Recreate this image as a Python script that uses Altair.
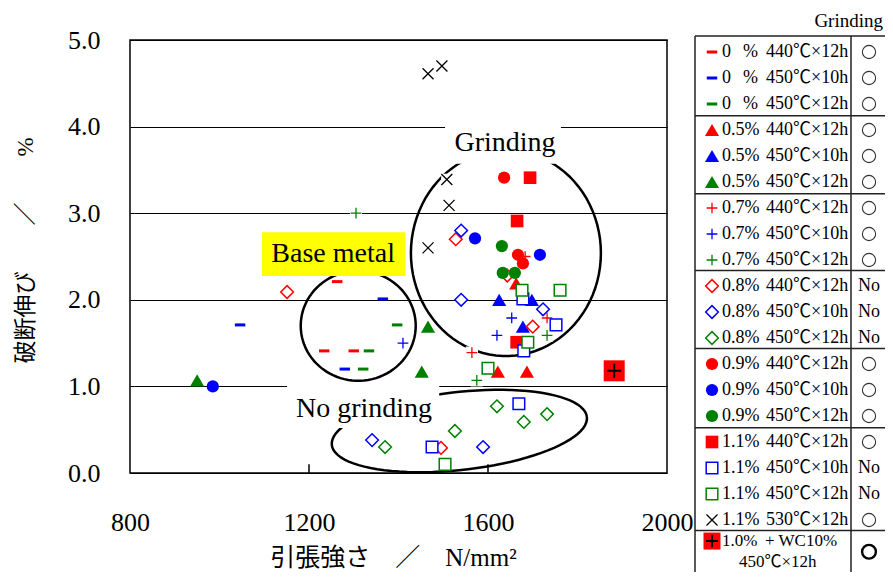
import math
import altair as alt
import pandas as pd

RED, BLUE, GREEN, BLACK = "#ff0000", "#0000ff", "#008000", "#000000"
FONT = "Liberation Serif, Noto Sans CJK JP"

# ---------------- data (tensile strength N/mm2, elongation %) ----------------
ts_0_440 = [1263, 1234, 1300]
el_0_440 = [2.21, 1.41, 1.41]
ts_0_450_10 = [1365, 1046, 1280]
el_0_450_10 = [2.01, 1.71, 1.20]
ts_0_450_12 = [1397, 1334, 1321]
el_0_450_12 = [1.71, 1.41, 1.20]
ts_05_440 = [1663, 1622, 1687]
el_05_440 = [2.19, 1.17, 1.17]
ts_05_450_10 = [1625, 1698, 1678]
el_05_450_10 = [2.00, 2.00, 1.69]
ts_05_450_12 = [950, 1466, 1452]
el_05_450_12 = [1.07, 1.69, 1.17]
ts_07_440 = [1683, 1732, 1564]
el_07_440 = [2.50, 1.79, 1.39]
ts_07_450_10 = [1410, 1653, 1620]
el_07_450_10 = [1.50, 1.79, 1.59]
ts_07_450_12 = [1305, 1732, 1575]
el_07_450_12 = [3.00, 1.59, 1.07]
ts_08_440 = [1151, 1528, 1643, 1700, 1495]
el_08_440 = [2.09, 2.70, 2.28, 1.69, 0.29]
ts_08_450_10 = [1540, 1540, 1723, 1341, 1589]
el_08_450_10 = [2.80, 2.00, 1.89, 0.38, 0.30]
ts_08_450_12 = [1370, 1620, 1732, 1680, 1526]
el_08_450_12 = [0.30, 0.77, 0.68, 0.59, 0.485]
ts_09_440 = [1636, 1667, 1678]
el_09_440 = [3.41, 2.52, 2.42]
ts_09_450_10 = [985, 1571, 1716]
el_09_450_10 = [1.00, 2.71, 2.52]
ts_09_450_12 = [1631, 1633, 1660]
el_09_450_12 = [2.62, 2.31, 2.31]
ts_11_440 = [1694, 1665, 1664]
el_11_440 = [3.41, 2.91, 1.51]
ts_11_450_10 = [1678, 1752, 1680, 1669, 1475]
el_11_450_10 = [2.01, 1.71, 1.41, 0.80, 0.30]
ts_11_450_12 = [1676, 1761, 1689, 1600, 1504]
el_11_450_12 = [2.11, 2.11, 1.51, 1.21, 0.10]
ts_11_530 = [1466, 1497, 1508, 1513, 1466]
el_11_530 = [4.61, 4.70, 3.39, 3.09, 2.60]
ts_wc = [1882]
el_wc = [1.18]

# legend table
leg_pct = ["0", "0", "0", "0.5%", "0.5%", "0.5%", "0.7%", "0.7%", "0.7%",
           "0.8%", "0.8%", "0.8%", "0.9%", "0.9%", "0.9%",
           "1.1%", "1.1%", "1.1%", "1.1%"]
leg_cond = ["440℃×12h", "450℃×10h", "450℃×12h"] * 5 + \
           ["440℃×12h", "450℃×10h", "450℃×12h", "530℃×12h"]
leg_grind = ["○"] * 9 + ["No"] * 3 + ["○"] * 3 + ["○", "No", "No", "○"]
leg_marker = ["dash"] * 3 + ["tri"] * 3 + ["plus"] * 3 + ["diamond"] * 3 + \
             ["circle"] * 3 + ["sqfill", "sqopen", "sqopen", "x"]
leg_color = [RED, BLUE, GREEN] * 5 + [RED, BLUE, GREEN, BLACK]
leg_sep = [2.45, 5.45, 8.4, 11.4, 14.45, 18.4]
wc_lines = ["1.0%", "+ WC10%", "450℃×12h"]

series = [
    (ts_0_440, el_0_440), (ts_0_450_10, el_0_450_10), (ts_0_450_12, el_0_450_12),
    (ts_05_440, el_05_440), (ts_05_450_10, el_05_450_10), (ts_05_450_12, el_05_450_12),
    (ts_07_440, el_07_440), (ts_07_450_10, el_07_450_10), (ts_07_450_12, el_07_450_12),
    (ts_08_440, el_08_440), (ts_08_450_10, el_08_450_10), (ts_08_450_12, el_08_450_12),
    (ts_09_440, el_09_440), (ts_09_450_10, el_09_450_10), (ts_09_450_12, el_09_450_12),
    (ts_11_440, el_11_440), (ts_11_450_10, el_11_450_10), (ts_11_450_12, el_11_450_12),
    (ts_11_530, el_11_530),
]

# annotation shapes (center x, center y, semi-axes in px, tilt deg)
ellipses = [("grind", 1640, 2.54, 95, 103, 0.0),
            ("base", 1310, 1.70, 57.5, 55, 0.0),
            ("nogrind", 1536, 0.485, 128.3, 39, -6.27)]
labels_txt = ["Grinding", "Base metal", "No grinding"]
labels_ts = [1638, 1254, 1323]
labels_el = [3.81, 2.53, 0.74]
box_ts = [1504, 1095, 1151]
box_ts2 = [1763, 1415, 1491]
box_el = [3.57, 2.275, 0.52]
box_el2 = [4.07, 2.78, 1.02]
box_fill = ["white", "#ffff00", "white"]

# ---------------- layout ----------------
W, H = 537, 433
KX, KY = W / 1200, H / 5

PLUS = "M -1 0 L 1 0 M 0 -1 L 0 1"
CROSS = "M -1 -1 L 1 1 M -1 1 L 1 -1"
MARKERS = {
    "dash": dict(shape="stroke", size=110, sw=3, fill="none"),
    "tri": dict(shape="triangle-up", size=200, sw=0, fill="solid"),
    "plus": dict(shape=PLUS, size=115, sw=1.3, fill="none", bg=150),
    "diamond": dict(shape="diamond", size=160, sw=1.5, fill="white"),
    "circle": dict(shape="circle", size=150, sw=0, fill="solid"),
    "sqfill": dict(shape="square", size=160, sw=0, fill="solid"),
    "sqopen": dict(shape="square", size=135, sw=1.5, fill="white"),
    "x": dict(shape=CROSS, size=121, sw=1.3, fill="none", bg=130),
}

xscale = alt.Scale(domain=[800, 2000], nice=False, zero=False)
yscale = alt.Scale(domain=[0, 5], nice=False, zero=False)
xaxis = alt.Axis(values=[800, 1200, 1600, 2000], format="d",
                 title="引張強さ　／　N/mm²", grid=False, ticks=False, tickSize=0,
                 domain=False, labelFont=FONT, labelFontSize=26, labelColor="black",
                 labelPadding=49, labelBaseline="middle", labelFlush=False,
                 titleFont=FONT, titleFontSize=25, titleFontWeight="normal",
                 titleColor="black", titleX=263, titleY=84, titleAlign="center",
                 titleBaseline="middle")
yaxis = alt.Axis(values=[0, 1, 2, 3, 4, 5], format=".1f",
                 title="破断伸び　　／　　%", grid=True, gridColor="black",
                 gridWidth=1, gridOpacity=1, ticks=False, tickSize=0, domain=False,
                 labelFont=FONT, labelFontSize=26, labelColor="black",
                 labelPadding=30, labelFlush=False, titleFont=FONT, titleFontSize=23,
                 titleFontWeight="normal", titleColor="black", titleX=-105,
                 titleY=210, titleAngle=270, titleBaseline="middle",
                 titleAlign="center")


def X(f="ts"):
    return alt.X(f, type="quantitative", scale=xscale, axis=xaxis)


def Y(f="el"):
    return alt.Y(f, type="quantitative", scale=yscale, axis=yaxis)


lxscale = alt.Scale(domain=[0, 192], range=[565, 757], nice=False, zero=False)
lyscale = alt.Scale(domain=[0, 20], range=[12, 532], nice=False, zero=False)


def LX(f="lx"):
    return alt.X(f, type="quantitative", scale=lxscale, axis=None)


def LY(f="slot"):
    return alt.Y(f, type="quantitative", scale=lyscale, axis=None)


def marker_layers(df, marker, color, xe, ye):
    m = MARKERS[marker]
    out = []
    if m.get("bg"):
        out.append(alt.Chart(df).mark_point(shape="square", filled=True, fill="white",
                                            strokeWidth=0, size=m["bg"], opacity=1)
                   .encode(x=xe, y=ye))
    if m["fill"] == "solid":
        mk = alt.Chart(df).mark_point(shape=m["shape"], filled=True, fill=color,
                                      strokeWidth=0, size=m["size"], opacity=1)
    elif m["fill"] == "white":
        mk = alt.Chart(df).mark_point(shape=m["shape"], filled=True, fill="white",
                                      stroke=color, strokeWidth=m["sw"],
                                      size=m["size"], opacity=1)
    else:
        mk = alt.Chart(df).mark_point(shape=m["shape"], filled=False, stroke=color,
                                      strokeWidth=m["sw"], size=m["size"], opacity=1)
    out.append(mk.encode(x=xe, y=ye))
    return out


# ---------------- plot layers ----------------
layers = []

# ellipse outlines
rows = []
for name, cx, cy, a, b, tilt in ellipses:
    ph = math.radians(tilt)
    for k in range(0, 91):
        t = math.radians(k * 4)
        dxp = a * math.cos(t) * math.cos(ph) - b * math.sin(t) * math.sin(ph)
        dyp = a * math.cos(t) * math.sin(ph) + b * math.sin(t) * math.cos(ph)
        rows.append({"name": name, "idx": k, "ts": cx + dxp / KX, "el": cy - dyp / KY})
ell_df = pd.DataFrame(rows)
layers.append(alt.Chart(ell_df).mark_line(color="black", strokeWidth=2.5)
              .encode(x=X(), y=Y(), detail="name:N", order="idx:Q"))

# label boxes and texts
box_df = pd.DataFrame({"ts": box_ts, "ts2": box_ts2, "el": box_el, "el2": box_el2,
                       "fill": box_fill})
layers.append(alt.Chart(box_df).mark_rect(strokeWidth=0)
              .encode(x=X(), x2="ts2", y=Y(), y2="el2",
                      fill=alt.Fill("fill:N", scale=None)))
lab_df = pd.DataFrame({"ts": labels_ts, "el": labels_el, "txt": labels_txt})
layers.append(alt.Chart(lab_df).mark_text(font=FONT, fontSize=28, color="black",
                                          baseline="middle", align="center")
              .encode(x=X(), y=Y(), text="txt:N"))

# inward x ticks
tick_df = pd.DataFrame({"ts": [1200, 1600], "el": [0, 0], "el2": [0.1, 0.1]})
layers.append(alt.Chart(tick_df).mark_rule(color="black", strokeWidth=1.5)
              .encode(x=X(), y=Y(), y2="el2"))

# data markers
for i, (tsv, elv) in enumerate(series):
    df = pd.DataFrame({"ts": tsv, "el": elv})
    layers += marker_layers(df, leg_marker[i], leg_color[i], X(), Y())
wc_df = pd.DataFrame({"ts": ts_wc, "el": el_wc})
layers.append(alt.Chart(wc_df).mark_point(shape="square", filled=True, fill=RED,
                                          strokeWidth=0, size=441, opacity=1)
              .encode(x=X(), y=Y()))
layers.append(alt.Chart(wc_df).mark_point(shape=PLUS, filled=False, stroke=BLACK,
                                          strokeWidth=2, size=196, opacity=1)
              .encode(x=X(), y=Y()))

plot = alt.layer(*layers)

# ---------------- legend table ----------------
lg = []
vl_df = pd.DataFrame({"lx": [0, 156, 192], "slot": [-0.615] * 3, "slot2": [22] * 3})
lg.append(alt.Chart(vl_df).mark_rule(color="#222", strokeWidth=1.5)
          .encode(x=LX(), y=LY(), y2="slot2"))
hl_df = pd.DataFrame({"lx": [0] * 7, "lx2": [192] * 7, "slot": [-0.615] + leg_sep})
lg.append(alt.Chart(hl_df).mark_rule(color="#222", strokeWidth=1.5)
          .encode(x=LX(), x2="lx2", y=LY()))
hd_df = pd.DataFrame({"lx": [188], "slot": [-1.2], "txt": ["Grinding"]})
lg.append(alt.Chart(hd_df).mark_text(font=FONT, fontSize=19, color="black",
                                     align="right", baseline="middle")
          .encode(x=LX(), y=LY(), text="txt:N"))
n = len(leg_pct)
slots = list(range(n))
pct_df = pd.DataFrame({"lx": [27] * n, "slot": slots, "txt": leg_pct})
lg.append(alt.Chart(pct_df).mark_text(font=FONT, fontSize=18, color="black",
                                      align="left", baseline="middle")
          .encode(x=LX(), y=LY(), text="txt:N"))
pc0_df = pd.DataFrame({"lx": [63] * 3, "slot": [0, 1, 2], "txt": ["%"] * 3})
lg.append(alt.Chart(pc0_df).mark_text(font=FONT, fontSize=18, color="black",
                                      align="right", baseline="middle")
          .encode(x=LX(), y=LY(), text="txt:N"))
cond_df = pd.DataFrame({"lx": [71] * n, "slot": slots, "txt": leg_cond})
lg.append(alt.Chart(cond_df).mark_text(font=FONT, fontSize=18, color="black",
                                       align="left", baseline="middle")
          .encode(x=LX(), y=LY(), text="txt:N"))
no_slots = [i for i in slots if leg_grind[i] == "No"]
yes_slots = [i for i in slots if leg_grind[i] == "○"]
no_df = pd.DataFrame({"lx": [174] * len(no_slots), "slot": no_slots,
                      "txt": ["No"] * len(no_slots)})
lg.append(alt.Chart(no_df).mark_text(font=FONT, fontSize=18, color="black",
                                     align="center", baseline="middle")
          .encode(x=LX(), y=LY(), text="txt:N"))
yes_df = pd.DataFrame({"lx": [174] * len(yes_slots), "slot": yes_slots})
lg.append(alt.Chart(yes_df).mark_point(shape="circle", filled=False, stroke="#333",
                                       strokeWidth=1.1, size=175, opacity=1)
          .encode(x=LX(), y=LY()))
for i in range(n):
    sdf = pd.DataFrame({"lx": [17], "slot": [i]})
    lg += marker_layers(sdf, leg_marker[i], leg_color[i], LX(), LY())
# last row (WC)
wc_txt_df = pd.DataFrame({"lx": [27, 70, 44], "slot": [18.81, 18.81, 19.62],
                          "txt": wc_lines})
lg.append(alt.Chart(wc_txt_df).mark_text(font=FONT, fontSize=17, color="black",
                                         align="left", baseline="middle")
          .encode(x=LX(), y=LY(), text="txt:N"))
wcs_df = pd.DataFrame({"lx": [17], "slot": [18.81]})
lg.append(alt.Chart(wcs_df).mark_point(shape="square", filled=True, fill=RED,
                                       strokeWidth=0, size=289, opacity=1)
          .encode(x=LX(), y=LY()))
lg.append(alt.Chart(wcs_df).mark_point(shape=PLUS, filled=False, stroke=BLACK,
                                       strokeWidth=2, size=150, opacity=1)
          .encode(x=LX(), y=LY()))
wco_df = pd.DataFrame({"lx": [174], "slot": [19.22]})
lg.append(alt.Chart(wco_df).mark_point(shape="circle", filled=False, stroke=BLACK,
                                       strokeWidth=2.4, size=190, opacity=1)
          .encode(x=LX(), y=LY()))

legend = alt.layer(*lg)

chart = (alt.layer(plot, legend)
         .resolve_scale(x="independent", y="independent")
         .properties(width=W, height=H,
                     padding={"left": 122, "top": 32, "right": 218, "bottom": 99},
                     autosize=alt.AutoSizeParams(type="none"), background="white")
         .configure_view(stroke="black", strokeWidth=1.5))

chart.save("out.html", embed_options={"renderer": "svg", "actions": False})
